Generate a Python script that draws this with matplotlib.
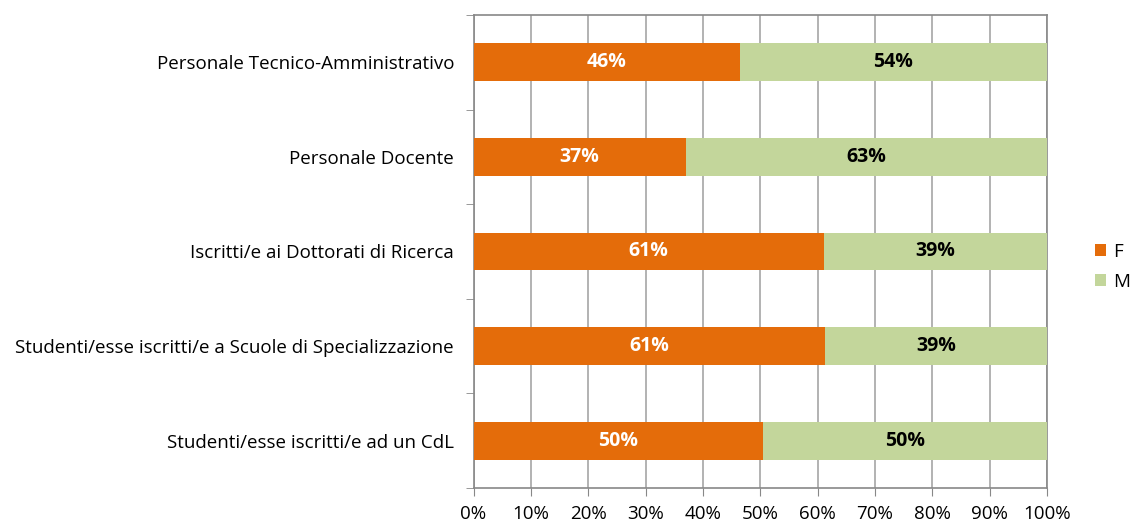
import numpy as np
import matplotlib.pyplot as plt

categories = [
    "Studenti/esse iscritti/e ad un CdL",
    "Studenti/esse iscritti/e a Scuole di Specializzazione",
    "Iscritti/e ai Dottorati di Ricerca",
    "Personale Docente",
    "Personale Tecnico-Amministrativo",
]
f_pct = [50.4, 61.3, 61.1, 37.0, 46.4]
m_pct = [100 - v for v in f_pct]
ticks = np.arange(0, 101, 10)

plt.rcParams['font.family'] = ['Open Sans', 'DejaVu Sans']

fig = plt.figure(figsize=(11.34, 5.23), dpi=100)
ax = fig.add_axes([473.5 / 1134, 35 / 523, 573.5 / 1134, 473 / 523])

y = np.arange(len(categories))
ax.barh(y, f_pct, height=0.4, color='#E46C0A', label='F', zorder=3)
ax.barh(y, m_pct, left=f_pct, height=0.4, color='#C3D69B', label='M', zorder=3)

for yi, f, m in zip(y, f_pct, m_pct):
    ax.text(f / 2, yi, '{:.0f}%'.format(f), ha='center', va='center',
            color='white', fontweight='bold', fontsize=14, zorder=4)
    ax.text(f + m / 2, yi, '{:.0f}%'.format(m), ha='center', va='center',
            color='black', fontweight='bold', fontsize=14, zorder=4)

ax.set_xlim(0, 100)
ax.set_ylim(-0.5, len(categories) - 0.5)
ax.set_xticks(ticks)
ax.set_xticklabels(['{}%'.format(t) for t in ticks], fontsize=13.5)
ax.set_yticks(y)
ax.set_yticklabels(categories, fontsize=13.5)
ax.tick_params(axis='y', length=0, pad=14)
ax.set_yticks(np.arange(-0.5, len(categories), 1), minor=True)
ax.tick_params(axis='y', which='minor', length=6, color='#888888')
ax.tick_params(axis='x', length=6, color='#888888', pad=6)
ax.xaxis.grid(True, color='#A6A6A6', linewidth=1.2, zorder=0)
for s in ax.spines.values():
    s.set_color('#888888')
    s.set_linewidth(1.2)

ax.legend(loc='center left', bbox_to_anchor=(1.083, 0.468), frameon=False,
          fontsize=13.5, handlelength=0.6, handleheight=0.6, labelspacing=0.65,
          handletextpad=0.4, borderpad=0, borderaxespad=0)

fig.savefig('out.png', dpi=100)
